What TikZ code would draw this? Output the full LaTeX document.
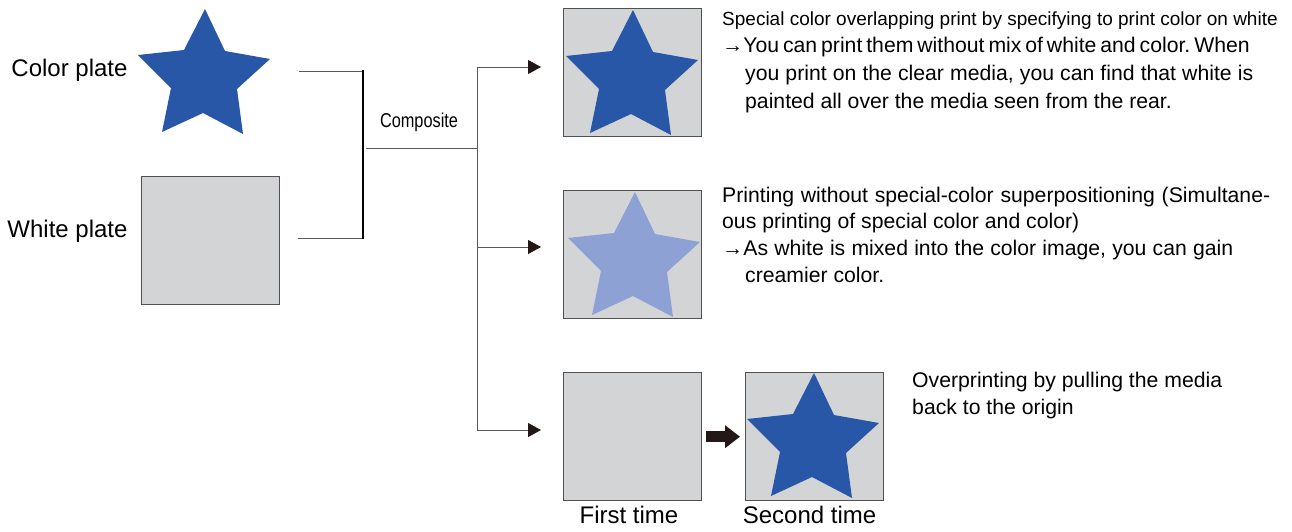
\documentclass[tikz,border=0pt]{standalone}
\usepackage{fontspec}
\setmainfont{Liberation Sans}
\usetikzlibrary{arrows.meta}
\definecolor{starblue}{HTML}{2757A6}
\definecolor{starlight}{HTML}{8DA1D4}
\definecolor{platefill}{HTML}{D3D4D6}
\definecolor{boxedge}{HTML}{505050}
\definecolor{linegray}{HTML}{5A5A5A}
\definecolor{arrowdark}{HTML}{231815}
\frenchspacing
\tikzset{
  starshape/.pic={\fill[pic actions] (0,0) -- (20,42) -- (65,50) -- (32,80) -- (38,125) -- (-2,104) -- (-43,123) -- (-34,79) -- (-67,46) -- (-21,41) -- cycle;},
  platebox/.style={draw=boxedge, fill=platefill, line width=1.4pt, minimum width=138pt, minimum height=128pt, inner sep=0pt, anchor=north west},
  conn/.style={draw=linegray, line width=1pt},
  arr/.style={conn, -{Triangle[length=13pt,width=14pt,color=arrowdark]}, shorten >=22pt},
  bracket/.style={draw=black, line width=2.4pt},
  bigarrow/.style={draw=arrowdark, line width=11pt, -{Triangle[length=15pt,width=22pt]}},
  lbl/.style={font=\fontsize{24}{28}\selectfont, inner sep=0pt, anchor=base},
  desc/.style={font=\fontsize{21.2}{27}\selectfont, inner sep=0pt, anchor=base west},
}
\begin{document}
\begin{tikzpicture}[x=1pt,y=-1pt]
\useasboundingbox (0,0) rectangle (1292,531);

% left plates
\node[lbl] (cp) at (69.5,76) {Color plate};
\pic[fill=starblue] at (205,9) {starshape};
\node[lbl] (wpl) at (67.5,237) {White plate};
\node[platebox] (wp) at (141,176) {};

% bracket
\coordinate (c1) at (299,71);
\coordinate (c2) at (298,238);
\coordinate (bt) at (363,70);
\coordinate (bb) at (363,239);
\draw[conn] (c1) -- (c1 -| bt);
\draw[conn] (c2) -- (c2 -| bb);
\draw[bracket] (bt) -- (bb);
\coordinate (m1) at (366,148);
\coordinate (m2) at (477,148);
\draw[conn] (m1) -- (m2);
\node[inner sep=0pt, anchor=base] (comp) at (419,127) {\resizebox{78pt}{\height}{\fontsize{20}{24}\selectfont Composite}};

% result boxes
\node[platebox] (b1) at (563,8) {};
\pic[fill=starblue] at (633,10) {starshape};
\node[platebox] (b2) at (563,190) {};
\pic[fill=starlight] at (635,192) {starshape};
\node[platebox] (b3) at (563,372) {};
\node[platebox] (b4) at (745,372) {};
\pic[fill=starblue] at (814,373) {starshape};

% trunk and arrows
\coordinate (t1) at (477,67);
\coordinate (t2) at (477,247);
\coordinate (t3) at (477,430);
\draw[conn] (t1) -- (t3);
\draw[arr] (t1) -- (t1 -| b1.west);
\draw[arr] (t2) -- (t2 -| b2.west);
\draw[arr] (t3) -- (t3 -| b3.west);
\draw[bigarrow, shorten <=4pt, shorten >=5pt] (b3.east) -- (b4.west);

% labels under boxes
\node[lbl] (ft) at (629,523) {First time};
\node[lbl] (st) at (809.5,523) {Second time};

% descriptions
\node[desc] (d1a) at (722,25) {\fontsize{19}{24}\selectfont Special color overlapping print by specifying to print color on white};
\node[desc] (d1b) at (722,52) {\makebox[523pt][s]{\textrightarrow You can print them without mix of white and color. When}};
\node[desc] (d1c) at (745,80) {\makebox[508pt][s]{you print on the clear media, you can find that white is}};
\node[desc] (d1d) at (745,108) {painted all over the media seen from the rear.};

\node[desc] (d2a) at (722,202) {\makebox[548pt][s]{Printing without special-color superpositioning (Simultane-}};
\node[desc] (d2b) at (722,228) {ous printing of special color and color)};
\node[desc] (d2c) at (722,255) {\makebox[511pt][s]{\textrightarrow As white is mixed into the color image, you can gain}};
\node[desc] (d2d) at (745,282) {creamier color.};

\node[desc] (d3a) at (912,387) {Overprinting by pulling the media};
\node[desc] (d3b) at (912,414) {back to the origin};
\end{tikzpicture}
\end{document}
